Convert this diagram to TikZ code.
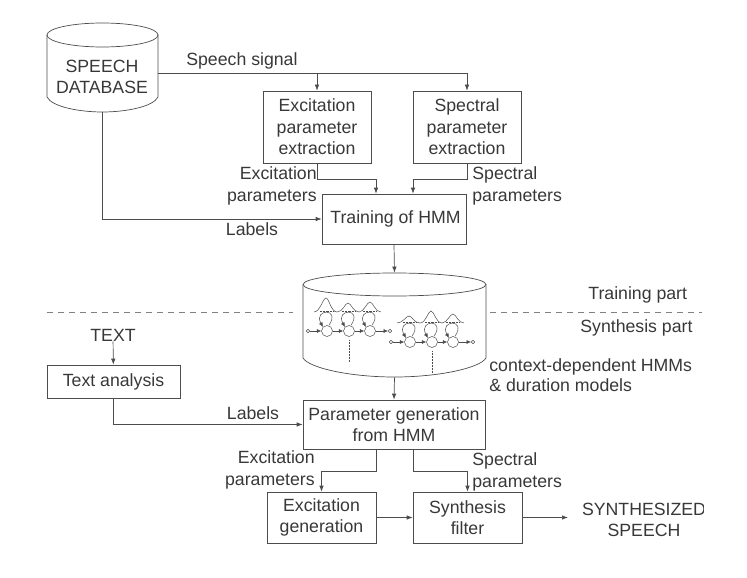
\documentclass[tikz,border=0pt]{standalone}
\usepackage{fontspec}
\setmainfont{Liberation Sans}
\usetikzlibrary{arrows.meta}
\definecolor{inkgray}{gray}{0.22}
\definecolor{linegray}{gray}{0.3}
\begin{document}
\begin{tikzpicture}
  [x=1pt,y=-1pt,line width=.7pt,color=linegray,text=inkgray,
   every node/.style={font=\fontsize{17.7}{21.5}\selectfont,align=center,inner sep=0pt},
   proc/.style={draw},
   txt/.style={align=left,anchor=west},
   flow/.style={-{Latex[length=6pt,width=4.5pt]}},
   state/.style={circle,draw,line width=.5pt,minimum size=11pt},
   term/.style={circle,draw,line width=.5pt,minimum size=3.5pt},
   hmm/.style={line width=.5pt,-{Latex[length=4.5pt,width=4pt]}}]
  \useasboundingbox (0,0) rectangle (747,578);

  % databases
  \node (speechdb) at (102.5,67.5) [minimum width=111pt,minimum height=89pt] {};
  \draw (102.5,35) ellipse [x radius=55.5,y radius=12];
  \draw (47,35) -- (47,97) .. controls (52,107) and (80,112) .. (102.5,112)
    .. controls (125,112) and (153,107) .. (158,97) -- (158,35);
  \node (speechtxt) at (102,77) {SPEECH\\DATABASE};
  \node (hmmdb) at (394.5,325) [minimum width=183pt,minimum height=104pt] {};
  \draw (394.5,284.5) ellipse [x radius=91.5,y radius=11.5];
  \draw (303,284.5) -- (303,358) .. controls (309,368) and (350,377) .. (394.5,377)
    .. controls (439,377) and (480,368) .. (486,358) -- (486,284.5);
  \coordinate (dbout) at (158,73);

  % boxes
  \node[proc,minimum width=108pt,minimum height=72pt] (excx) at (317,127) {Excitation\\parameter\\extraction};
  \node[proc,minimum width=108pt,minimum height=72pt] (specx) at (467,127) {Spectral\\parameter\\extraction};
  \node[proc,minimum width=144pt,minimum height=50pt] (train) at (394,219) {\hspace*{3pt}Training of HMM};
  \node[proc,minimum width=133pt,minimum height=33pt] (analysis) at (113.5,381.5) {Text analysis};
  \node[proc,minimum width=182pt,minimum height=49pt] (pgen) at (394,424.5) {Parameter generation\\from HMM};
  \node[proc,minimum width=109pt,minimum height=51pt] (excgen) at (321.5,517.5) {Excitation\\generation};
  \node[proc,minimum width=109pt,minimum height=51pt] (synth) at (467.5,517.5) {Synthesis\\filter};

  % plain texts
  \node (text) at (113,335) {TEXT};
  \node[txt] (lsig) at (186,61) {Speech signal};
  \node[txt,align=right,anchor=east] (lexc) at (317,186) {Excitation\\parameters};
  \node[txt] (lspec) at (472,186) {Spectral\\parameters};
  \node (llab) at (252,229) {Labels};
  \node (llab2) at (253,413) {Labels};
  \node[txt] (ltrain) at (588,295) {Training part};
  \node[txt] (lsyn) at (580,328) {Synthesis part};
  \node[txt] (lctx) at (489,375) {context-dependent HMMs\\[-2pt]\& duration models};
  \node[txt,align=right,anchor=east] (lexc2) at (315,470) {Excitation\\parameters};
  \node[txt] (lspec2) at (472,472) {Spectral\\parameters};
  \begin{scope}
    \clip (570,495) rectangle (703,545);
    \node (output) at (644,520) {SYNTHESIZED\\SPEECH};
  \end{scope}

  % training / synthesis split
  \coordinate (splita) at (47,312);
  \coordinate (splitb) at (293,312);
  \coordinate (splitc) at (490,312);
  \coordinate (splitd) at (702,312);
  \draw[dash pattern=on 6pt off 5pt,gray] (splita) -- (splitb);
  \draw[dash pattern=on 6pt off 5pt,gray] (splitc) -- (splitd);

  % upper part
  \draw (dbout) -- (specx.north |- dbout);
  \draw[flow] (excx.north |- dbout) -- (excx.north);
  \draw[flow] (specx.north |- dbout) -- (specx.north);
  \draw[flow] (excx.south) -- ++(0,16) -| ([xshift=-18pt]train.north);
  \draw[flow] (specx.south) -- ++(0,16) -| ([xshift=19pt]train.north);
  \draw[flow] (speechdb.south) |- (train.west);
  \draw[flow] (train.south) -- (hmmdb.north);

  % lower part
  \draw[flow] (text) -- (analysis);
  \draw[flow] (analysis.south) |- (pgen.west);
  \draw[flow] (hmmdb.south) -- (pgen.north);
  \draw[flow] ([xshift=-18pt]pgen.south) -- ++(0,22) -| (excgen.north);
  \draw[flow] ([xshift=19pt]pgen.south) -- ++(0,22) -| (synth.north);
  \draw[flow] (excgen) -- (synth);
  \coordinate (outend) at (568,517.5);
  \draw[flow] (synth) -- (outend);

  % the two small models inside the database
  \foreach \c/\dx/\dy/\pa/\pb/\pc in {p/0/0/14/9/10,q/83/11/7/12/9}
  {
    \begin{scope}[shift={(\dx,\dy)}]
      \node[term] (\c s) at (308,331) {};
      \node[state] (\c 1) at (327,331) {};
      \node[state] (\c 2) at (349,331) {};
      \node[state] (\c 3) at (370,331) {};
      \node[term] (\c e) at (390,331) {};
      \foreach \from/\to in {\c s/\c 1,\c 1/\c 2,\c 2/\c 3,\c 3/\c e}
        \draw[hmm] (\from) -- (\to);
      \foreach \i in {1,2,3}
        \draw[hmm] ([xshift=2pt]\c\i.north) .. controls ++(12,-18) and ++(-10,-18) .. (\c\i.north west);
      \foreach \i in {1,2,3}
        \draw[densely dotted,line width=.4pt] (\c\i) ++(-7,-20) -- ++(14,0);
      \coordinate (\c c) at (349,340);
      \coordinate (\c d) at (349,362);
      \draw[densely dotted,line width=.5pt] (\c c) -- (\c d);
      \draw[line width=.5pt] (314,312)
        .. controls (320,312) and (323,312-\pa) .. (326,312-\pa)
        .. controls (329,312-\pa) and (331,312) .. (337,312)
        .. controls (343,312) and (345,312-\pb) .. (348,312-\pb)
        .. controls (351,312-\pb) and (353,312) .. (359,312)
        .. controls (364,312) and (367,312-\pc) .. (370,312-\pc)
        .. controls (373,312-\pc) and (375,312) .. (381,312);
    \end{scope}
  }
\end{tikzpicture}
\end{document}
